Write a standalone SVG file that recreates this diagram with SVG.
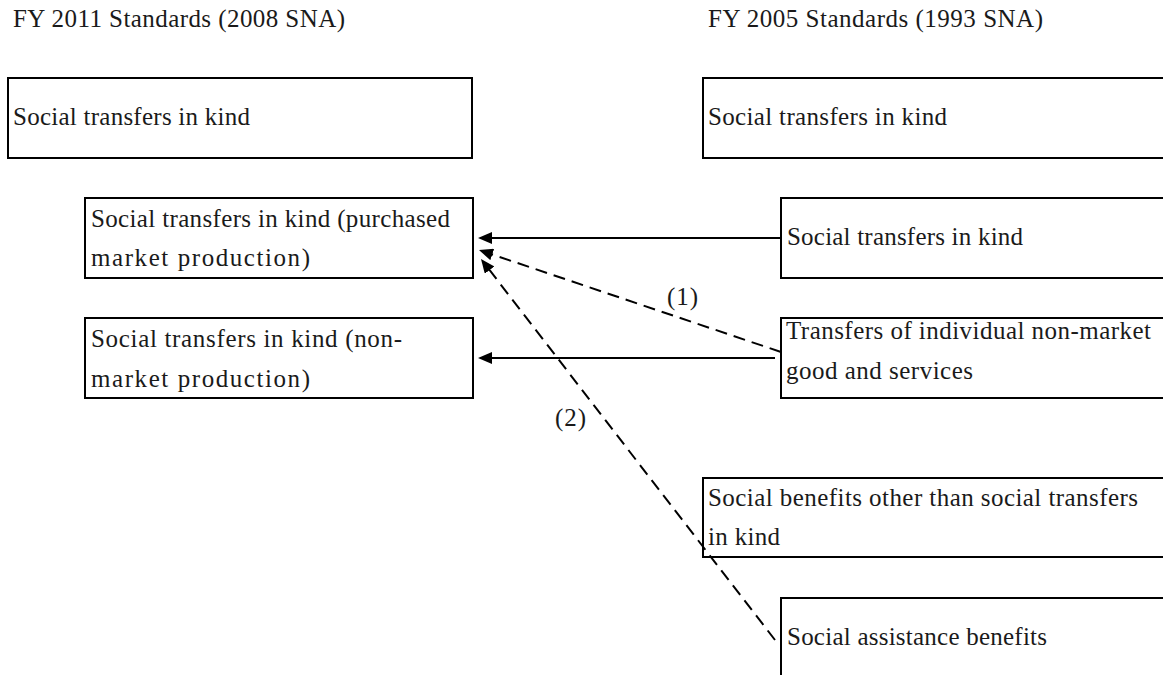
<svg xmlns="http://www.w3.org/2000/svg" width="1163" height="675" viewBox="0 0 1163 675">
<style>
  .box { fill: #ffffff; stroke: #000000; stroke-width: 2; }
  .t { font-family: "Liberation Serif", "Times New Roman", serif; font-size: 25px; fill: #1a1a1a; }
  .ln { fill: none; stroke: #000000; stroke-width: 2; }
  .dash { stroke-dasharray: 12 7; }
</style>
<defs>
  <marker id="ah" markerUnits="userSpaceOnUse" markerWidth="14" markerHeight="12" refX="5" refY="6" orient="auto">
    <path d="M0,0 L14,6 L0,12 Z" fill="#000000" stroke="none"/>
  </marker>
</defs>
<rect width="1163" height="675" fill="#ffffff"/>

<g id="title-left"><text class="t" x="13" y="27" textLength="332">FY 2011 Standards (2008 SNA)</text></g>
<g id="title-right"><text class="t" x="708" y="27" textLength="335">FY 2005 Standards (1993 SNA)</text></g>

<g id="node-new-stik">
  <rect class="box" x="8" y="78" width="464" height="80"/>
  <text class="t" x="13" y="125" textLength="237">Social transfers in kind</text>
</g>
<g id="node-old-stik">
  <rect class="box" x="703" y="78" width="480" height="80"/>
  <text class="t" x="708" y="125" textLength="239">Social transfers in kind</text>
</g>
<g id="node-purchased">
  <rect class="box" x="85" y="198" width="388" height="80"/>
  <text class="t" x="91" y="227" textLength="359">Social transfers in kind (purchased</text>
  <text class="t" x="91" y="266" textLength="219">market production)</text>
</g>
<g id="node-nonmarket">
  <rect class="box" x="85" y="318" width="388" height="80"/>
  <text class="t" x="91" y="347" textLength="311">Social transfers in kind (non-</text>
  <text class="t" x="91" y="387" textLength="219">market production)</text>
</g>
<g id="node-old-stik-sub">
  <rect class="box" x="781" y="198" width="400" height="80"/>
  <text class="t" x="787" y="245" textLength="236">Social transfers in kind</text>
</g>
<g id="node-transfers-nonmarket">
  <rect class="box" x="781" y="318" width="400" height="80"/>
  <text class="t" x="786" y="339" textLength="365">Transfers of individual non-market</text>
  <text class="t" x="786" y="379" textLength="187">good and services</text>
</g>
<g id="node-social-benefits">
  <rect class="box" x="703" y="478" width="480" height="79"/>
  <text class="t" x="708" y="506" textLength="430">Social benefits other than social transfers</text>
  <text class="t" x="708" y="545" textLength="72">in kind</text>
</g>
<g id="node-social-assistance">
  <rect class="box" x="781" y="598" width="400" height="100"/>
  <text class="t" x="787" y="645" textLength="260">Social assistance benefits</text>
</g>

<g id="connectors">
  <line class="ln" x1="781" y1="238" x2="487" y2="238" marker-end="url(#ah)"/>
  <line class="ln" x1="775" y1="358" x2="487" y2="358" marker-end="url(#ah)"/>
  <line class="ln dash" x1="781" y1="352" x2="487.5" y2="252.9" marker-end="url(#ah)"/>
  <line class="ln dash" x1="775" y1="640" x2="486.5" y2="266.1" marker-end="url(#ah)"/>
  <text class="t" x="667" y="305" textLength="31">(1)</text>
  <text class="t" x="555" y="426" textLength="31">(2)</text>
</g>
</svg>
